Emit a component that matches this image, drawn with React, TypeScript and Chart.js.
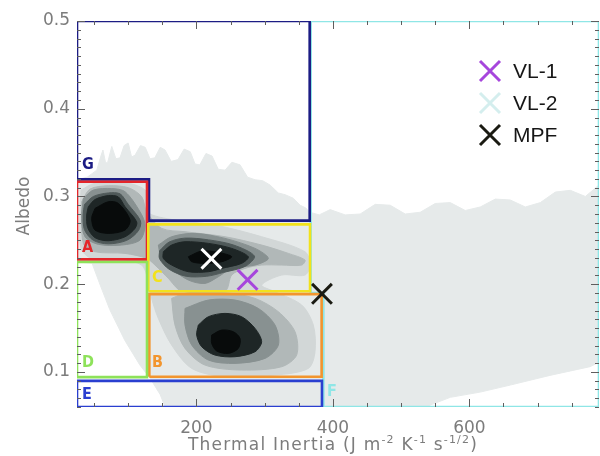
import React, { useEffect, useRef } from 'react';
import { Chart, registerables } from 'chart.js';

Chart.register(...registerables);

type P = [number, number];

// Axis ranges and ticks
const X_RANGE: P = [25, 790];
const Y_RANGE: P = [0.06, 0.5];
const X_TICKS = [200, 400, 600];
const Y_TICKS = [0.1, 0.2, 0.3, 0.4, 0.5];
const X_MINOR_STEP = 50;
const Y_MINOR_STEP = 0.01;

// Density levels (lightest to darkest)
const LEVEL_COLORS = ['#e6eaea', '#d2d7d7', '#b1b8b8', '#889191', '#4f5959', '#1e2626', '#080b0b'];

// Level 0: overall extent of observations
const DENSITY0: P[] = [
  [25, 0.319], [40, 0.322], [54, 0.33], [60, 0.346], [63, 0.353], [67, 0.338], [70, 0.339], [76, 0.357],
  [82, 0.343], [88, 0.344], [94, 0.358], [100, 0.361], [105, 0.345], [110, 0.347], [118, 0.358], [125, 0.356],
  [132, 0.343], [139, 0.344], [147, 0.356], [154, 0.353], [163, 0.34], [173, 0.342], [182, 0.354], [191, 0.351],
  [198, 0.337], [205, 0.336], [214, 0.349], [223, 0.346], [232, 0.331], [242, 0.33], [252, 0.339], [264, 0.336],
  [275, 0.322], [286, 0.319], [297, 0.318], [308, 0.313], [320, 0.304], [330, 0.302], [342, 0.298], [352, 0.29],
  [360, 0.287], [366, 0.282], [380, 0.279], [396, 0.285], [418, 0.279], [440, 0.28], [462, 0.291], [484, 0.29],
  [506, 0.28], [528, 0.282], [550, 0.292], [572, 0.293], [594, 0.284], [616, 0.288], [638, 0.297], [660, 0.296],
  [682, 0.288], [704, 0.293], [726, 0.305], [748, 0.307], [770, 0.3], [790, 0.313], [790, 0.111], [777, 0.106],
  [718, 0.096], [660, 0.085], [616, 0.077], [572, 0.071], [542, 0.062], [540, 0.06], [154, 0.06], [147, 0.074],
  [132, 0.093], [117, 0.108], [95, 0.136], [73, 0.171], [59, 0.199], [47, 0.224], [25, 0.225],
];

// Level 1: envelope around A, C and B clusters
const DENSITY1: P[] = [
  [30.9, 0.3073], [51.4, 0.315], [100.2, 0.315], [127.1, 0.3054], [127.1, 0.2826], [168.6, 0.2731], [227.2, 0.2674],
  [295.6, 0.2541], [359.1, 0.237], [366.5, 0.2218], [359.1, 0.2104], [324.9, 0.2104], [295.6, 0.199], [315.2, 0.1914],
  [354.3, 0.1762], [371.3, 0.1534], [373.8, 0.123], [364, 0.104], [315.2, 0.0964], [241.9, 0.0945], [193.1, 0.104],
  [163.7, 0.1306], [144.2, 0.161], [134.4, 0.1838], [127.1, 0.2104], [119.8, 0.2218], [95.4, 0.2275], [46.5, 0.2294],
  [30.9, 0.2408], [29.4, 0.2788],
];

// Level 2
const DENSITY2_AC: P[] = [
  [31.8, 0.294], [44.1, 0.3084], [70.9, 0.3122], [100.2, 0.31], [119.8, 0.2997], [127.1, 0.2826], [149.1, 0.2636],
  [183.3, 0.2598], [241.9, 0.2541], [295.6, 0.2446], [334.7, 0.2351], [359.1, 0.2275], [354.3, 0.2218], [324.9, 0.2218],
  [295.6, 0.2218], [271.2, 0.218], [251.7, 0.2104], [241.9, 0.1922], [178.4, 0.1922], [158.9, 0.2066], [139.3, 0.2218],
  [127.1, 0.2294], [95.4, 0.2351], [51.4, 0.237], [34.3, 0.2465],
];
const DENSITY2_B: P[] = [
  [163.7, 0.1838], [183.3, 0.1895], [241.9, 0.1903], [285.9, 0.1838], [320.1, 0.1686], [344.5, 0.1458],
  [346.9, 0.1192], [324.9, 0.1059], [266.3, 0.1021], [212.6, 0.1078], [183.3, 0.1268], [168.6, 0.1534],
];

// Level 3
const DENSITY3_A: P[] = [
  [34.3, 0.2978], [49, 0.3073], [75.8, 0.309], [95.4, 0.3054], [117.3, 0.2826], [124.7, 0.2674], [117.3, 0.2503],
  [90.5, 0.2446], [56.3, 0.2454], [36.7, 0.2541], [31.8, 0.275],
];
const DENSITY3_C: P[] = [
  [144.2, 0.2446], [163.7, 0.2541], [197.9, 0.2579], [241.9, 0.2522], [285.9, 0.2408], [305.4, 0.2294],
  [285.9, 0.2218], [251.7, 0.218], [232.1, 0.2085], [212.6, 0.2009], [188.2, 0.2047], [163.7, 0.218], [148.1, 0.2313],
];
const DENSITY3_B: P[] = [
  [183.3, 0.1724], [217.5, 0.1819], [256.6, 0.1819], [290.7, 0.1724], [315.2, 0.1534], [320.1, 0.1306],
  [300.5, 0.1154], [256.6, 0.1097], [217.5, 0.1135], [193.1, 0.1306], [183.3, 0.1534],
];

// Level 4 (dark rings around A and C)
const DENSITY4_A: P[] = [
  [36, 0.291], [49, 0.3], [71, 0.304], [88, 0.303], [100, 0.291], [118, 0.272], [115, 0.261], [98, 0.25],
  [71, 0.246], [49, 0.25], [36, 0.262], [34, 0.279],
];
const DENSITY4_C: P[] = [
  [146, 0.238], [160, 0.248], [183, 0.2525], [218, 0.2505], [255, 0.2445], [285, 0.232], [272, 0.2205],
  [240, 0.2135], [215, 0.209], [185, 0.209], [160, 0.217], [146, 0.229],
];

// Level 5 (dark cores)
const DENSITY5_A: P[] = [
  [41.6, 0.2883], [51.4, 0.2965], [70.9, 0.301], [85.6, 0.2995], [95.4, 0.2883], [112.4, 0.2712], [110, 0.2636],
  [95.4, 0.254], [70.9, 0.2495], [51.4, 0.253], [40.6, 0.2645], [39.2, 0.2788],
];
const DENSITY5_C: P[] = [
  [151.5, 0.237], [163.7, 0.2446], [183.3, 0.2484], [217.5, 0.2465], [251.7, 0.2408], [276.1, 0.2313],
  [266.3, 0.2237], [237, 0.218], [217.5, 0.2142], [188.2, 0.2142], [163.7, 0.2218], [151.5, 0.2294],
];
const DENSITY5_B: P[] = [
  [202.8, 0.1534], [217.5, 0.1629], [241.9, 0.1667], [266.3, 0.1629], [285.9, 0.1496], [295.6, 0.1344],
  [285.9, 0.123], [256.6, 0.1173], [227.2, 0.1192], [207.7, 0.1287], [200.4, 0.142],
];

// Level 6 (peaks)
const DENSITY6_A: P[] = [
  [51.4, 0.2864], [70.9, 0.294], [85.6, 0.2921], [102.7, 0.2731], [95.4, 0.2617], [70.9, 0.2579], [51.4, 0.2617], [46.5, 0.275],
];
const DENSITY6_C: P[] = [
  [188.2, 0.2313], [207.7, 0.2378], [232.1, 0.2362], [251.7, 0.2313], [237, 0.2256], [212.6, 0.2237], [193.1, 0.2256],
];
const DENSITY6_B: P[] = [
  [222.4, 0.142], [237, 0.1477], [254.1, 0.1458], [263.9, 0.1382], [261.4, 0.1268], [246.8, 0.1211], [229.7, 0.1238], [222.4, 0.1325],
];

// Unit boxes
const BOX_G: P[] = [[25, 0.3195], [25, 0.5], [366, 0.5], [366, 0.2725], [130.5, 0.2725], [130.5, 0.3195]];
const BOX_A: P[] = [[25, 0.2283], [25, 0.3168], [127.6, 0.3168], [127.6, 0.2283]];
const BOX_C: P[] = [[129.5, 0.192], [129.5, 0.2682], [366.5, 0.2682], [366.5, 0.192]];
const BOX_D: P[] = [[25, 0.094], [25, 0.2252], [127.6, 0.2252], [127.6, 0.094]];
const BOX_B: P[] = [[131, 0.0944], [131, 0.1887], [383.5, 0.1887], [383.5, 0.0944]];
const BOX_E: P[] = [[25, 0.06], [25, 0.0898], [384, 0.0898], [384, 0.06]];
const BOX_F: P[] = [[367.5, 0.5], [790, 0.5], [790, 0.06], [386, 0.06], [386, 0.19], [367.5, 0.19]];

const BOX_LABELS = ['G', 'A', 'C', 'D', 'B', 'E', 'F'];
const BOX_COLORS = ['#1c1c84', '#e4262a', '#f2e21c', '#8ee25a', '#f2952e', '#2a3fd0', '#8fe6e6'];
const LABEL_X = [32.3, 32.3, 134.9, 32.3, 134.9, 32.3, 391.4];
const LABEL_Y = [0.3358, 0.2412, 0.2069, 0.11, 0.11, 0.0735, 0.077];

// Landing sites
const SITE_NAMES = ['VL-1', 'VL-2', 'MPF'];
const SITE_X = [275, 222, 384];
const SITE_Y = [0.205, 0.229, 0.189];
const SITE_COLORS = ['#a646dc', '#ffffff', '#1a1a12'];
const LEGEND_COLORS = ['#a646dc', '#d4eeee', '#1a1a12'];

const X_TITLE_PARTS: [string, boolean][] = [
  ['Thermal Inertia (J m', false], ['-2', true], [' K', false], ['-1', true], [' s', false], ['-1/2', true], [')', false],
];
const Y_TITLE = 'Albedo';

const FONT = '"DejaVu Sans", sans-serif';
const GRAY = '#7c7c7c';

const toXY = (pts: P[], close: boolean) => {
  const arr = close ? [...pts, pts[0]] : pts;
  return arr.map(([x, y]) => ({ x, y }));
};

const decorPlugin = {
  id: 'decor',
  afterDatasetsDraw(chart: any) {
    const { ctx, chartArea: a, scales } = chart;
    const xs = scales.x;
    const ys = scales.y;
    ctx.save();
    // inward ticks on all four sides
    ctx.strokeStyle = '#5e5e5e';
    ctx.lineWidth = 1;
    ctx.beginPath();
    const nx0 = Math.ceil(X_RANGE[0] / X_MINOR_STEP);
    const nx1 = Math.floor(X_RANGE[1] / X_MINOR_STEP);
    for (let k = nx0; k <= nx1; k++) {
      const v = k * X_MINOR_STEP;
      const px = Math.round(xs.getPixelForValue(v)) + 0.5;
      const len = X_TICKS.includes(v) ? 8 : 4;
      ctx.moveTo(px, a.bottom);
      ctx.lineTo(px, a.bottom - len);
      ctx.moveTo(px, a.top);
      ctx.lineTo(px, a.top + len);
    }
    const ny0 = Math.ceil(Y_RANGE[0] / Y_MINOR_STEP - 1e-6);
    const ny1 = Math.floor(Y_RANGE[1] / Y_MINOR_STEP + 1e-6);
    for (let k = ny0; k <= ny1; k++) {
      const v = k * Y_MINOR_STEP;
      const py = Math.round(ys.getPixelForValue(v)) + 0.5;
      const len = k % 10 === 0 ? 8 : 4;
      ctx.moveTo(a.left, py);
      ctx.lineTo(a.left + len, py);
      ctx.moveTo(a.right, py);
      ctx.lineTo(a.right - len, py);
    }
    ctx.stroke();
    // box labels
    ctx.font = 'bold 16px "DejaVu Sans Condensed", "DejaVu Sans", sans-serif';
    ctx.textAlign = 'left';
    ctx.textBaseline = 'middle';
    BOX_LABELS.forEach((t, i) => {
      ctx.fillStyle = BOX_COLORS[i];
      ctx.fillText(t, xs.getPixelForValue(LABEL_X[i]), ys.getPixelForValue(LABEL_Y[i]));
    });
    ctx.restore();
  },
  afterDraw(chart: any) {
    const { ctx, chartArea: a } = chart;
    ctx.save();
    // legend
    const mx = a.right - 109;
    SITE_NAMES.forEach((name, i) => {
      const cy = a.top + 50 + i * 32;
      ctx.strokeStyle = LEGEND_COLORS[i];
      ctx.lineWidth = 3;
      ctx.beginPath();
      ctx.moveTo(mx - 10, cy - 10);
      ctx.lineTo(mx + 10, cy + 10);
      ctx.moveTo(mx + 10, cy - 10);
      ctx.lineTo(mx - 10, cy + 10);
      ctx.stroke();
      ctx.fillStyle = '#161616';
      ctx.font = '21px "Liberation Sans", Arial, sans-serif';
      ctx.textAlign = 'left';
      ctx.textBaseline = 'middle';
      ctx.fillText(name, mx + 23, cy + 1);
    });
    // x title with superscripts
    ctx.fillStyle = GRAY;
    ctx.textAlign = 'left';
    ctx.textBaseline = 'alphabetic';
    (ctx as any).letterSpacing = '1.2px';
    const mainFont = '17px ' + FONT;
    const supFont = '11px ' + FONT;
    let total = 0;
    X_TITLE_PARTS.forEach(([t, sup]) => {
      ctx.font = sup ? supFont : mainFont;
      total += ctx.measureText(t).width;
    });
    let cx = a.left + 256 - total / 2;
    const base = a.bottom + 43;
    X_TITLE_PARTS.forEach(([t, sup]) => {
      ctx.font = sup ? supFont : mainFont;
      ctx.fillText(t, cx, sup ? base - 7 : base);
      cx += ctx.measureText(t).width;
    });
    (ctx as any).letterSpacing = '0px';
    // y title
    ctx.translate(25, a.top + 185);
    ctx.rotate(-Math.PI / 2);
    ctx.font = mainFont;
    ctx.textAlign = 'center';
    ctx.textBaseline = 'middle';
    ctx.fillText(Y_TITLE, 0, 0);
    ctx.restore();
  },
};

export default function App() {
  const ref = useRef<HTMLCanvasElement | null>(null);
  useEffect(() => {
    if (!ref.current) return;
    const area = (pts: P[], level: number, tension = 0.3) => ({
      data: toXY(pts, true),
      showLine: true,
      fill: 'shape',
      backgroundColor: LEVEL_COLORS[level],
      borderColor: LEVEL_COLORS[level],
      borderWidth: 1,
      pointRadius: 0,
      tension,
      order: 50 - level,
    });
    const box = (pts: P[], color: string, order = 5) => ({
      data: toXY(pts, true),
      showLine: true,
      fill: false,
      borderColor: color,
      borderWidth: 2.6,
      pointRadius: 0,
      tension: 0,
      borderJoinStyle: 'miter',
      order,
    });
    const datasets: any[] = [
      area(DENSITY0, 0, 0),
      area(DENSITY1, 1),
      area(DENSITY2_AC, 2),
      area(DENSITY2_B, 2),
      area(DENSITY3_A, 3),
      area(DENSITY3_C, 3),
      area(DENSITY3_B, 3),
      area(DENSITY4_A, 4),
      area(DENSITY4_C, 4),
      area(DENSITY5_A, 5),
      area(DENSITY5_C, 5),
      area(DENSITY5_B, 5),
      area(DENSITY6_A, 6),
      area(DENSITY6_C, 6),
      area(DENSITY6_B, 6),
      box(BOX_F, BOX_COLORS[6], 6),
      box(BOX_E, BOX_COLORS[5]),
      box(BOX_D, BOX_COLORS[3]),
      box(BOX_B, BOX_COLORS[4]),
      box(BOX_C, BOX_COLORS[2]),
      box(BOX_A, BOX_COLORS[1]),
      box(BOX_G, BOX_COLORS[0]),
      ...SITE_NAMES.map((name, i) => ({
        label: name,
        data: [{ x: SITE_X[i], y: SITE_Y[i] }],
        showLine: false,
        pointStyle: 'crossRot',
        pointRadius: 14,
        pointBorderWidth: 3,
        pointBorderColor: SITE_COLORS[i],
        pointBackgroundColor: SITE_COLORS[i],
        clip: false,
        order: 0,
      })),
    ];
    const chart = new Chart(ref.current, {
      type: 'scatter',
      data: { datasets },
      plugins: [decorPlugin],
      options: {
        animation: false,
        responsive: false,
        events: [],
        layout: { autoPadding: false, padding: { top: 21, right: 1, left: 0, bottom: 0 } },
        plugins: { legend: { display: false }, tooltip: { enabled: false } },
        scales: {
          x: {
            type: 'linear',
            position: 'bottom',
            min: X_RANGE[0],
            max: X_RANGE[1],
            grid: { display: false, drawTicks: false },
            border: { display: false },
            afterBuildTicks: (s: any) => { s.ticks = X_TICKS.map((v) => ({ value: v })); },
            afterFit: (s: any) => { s.height = 49; s.paddingLeft = 0; s.paddingRight = 0; },
            ticks: {
              color: GRAY,
              padding: 11,
              maxRotation: 0,
              font: { family: FONT, size: 17 },
              callback: (v: any) => String(v),
            },
          },
          y: {
            type: 'linear',
            position: 'left',
            min: Y_RANGE[0],
            max: Y_RANGE[1],
            grid: { display: false, drawTicks: false },
            border: { display: false },
            afterBuildTicks: (s: any) => { s.ticks = Y_TICKS.map((v) => ({ value: v })); },
            afterFit: (s: any) => { s.width = 77; s.paddingTop = 0; s.paddingBottom = 0; },
            ticks: {
              color: GRAY,
              padding: 7,
              font: { family: FONT, size: 17 },
              callback: (v: any) => Number(v).toFixed(1),
            },
          },
        },
      } as any,
    });
    return () => chart.destroy();
  }, []);
  return (
    <div style={{ position: 'absolute', left: 0, top: 0, width: 600, height: 456, background: '#fff' }}>
      <canvas ref={ref} width={600} height={456} style={{ display: 'block' }} />
    </div>
  );
}
